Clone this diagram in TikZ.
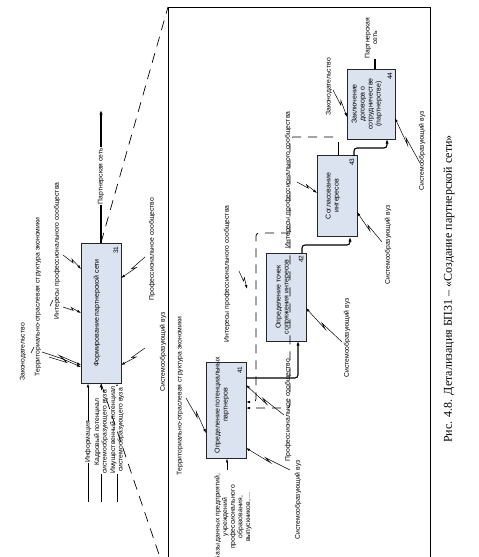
\documentclass[tikz,border=0pt]{standalone}
\usepackage{fontspec}
\setmainfont{Liberation Serif}
\newfontfamily\diafont{Liberation Sans}
\usetikzlibrary{arrows.meta,calc}

\definecolor{boxfill}{HTML}{DCE3F0}

% label leader with a small zig before the box
\newcommand\squig[2]{%
  \coordinate (sqA) at ($#1!.56!#2$);
  \coordinate (sqB) at ($#1!.42!#2$);
  \draw[arrow] #1 -- (sqA) -- ($(sqB)!2.2pt!90:#2$) -- #2;}

\begin{document}
\begin{tikzpicture}[x=1pt,y=-1pt,
        font=\diafont\fontsize{6.8}{7.6}\selectfont,
        box/.style={draw=black!85, line width=0.8pt, fill=boxfill, inner sep=0pt},
        boxtext/.style={rotate=90, align=center, font=\diafont\fontsize{7}{8}\selectfont},
        num/.style={rotate=90, inner sep=0pt, font=\diafont\fontsize{6.5}{7}\selectfont},
        lbl/.style={rotate=90, align=center, inner sep=0.6pt},
        arrow/.style={-{Latex[length=4pt,width=2.6pt]}, line width=0.5pt},
        inarrow/.style={-{Latex[length=4pt,width=2.8pt]}, line width=0.8pt},
        flow/.style={-{Latex[length=4.5pt,width=3.2pt]}, line width=1.1pt, rounded corners=3pt},
        zoomline/.style={dash pattern=on 10pt off 7pt, line width=0.7pt},
        loopline/.style={dash pattern=on 9pt off 7pt, line width=0.7pt, rounded corners=3pt},
        frame/.style={line width=0.9pt}
    ]
        \useasboundingbox (0,0) rectangle (479,557);

        % parent box 31
        \node[box, minimum width=40pt, minimum height=140pt] (b31) at (101,313) {};
        \node[boxtext] (t31) at (97,313) {Формирование партнерской сети};
        \node[num] (n31) at (116,250) {31};

        \coordinate (o31) at (101,110);
        \draw[flow] (b31.north) -- (o31);
        \node[lbl, fill=white] (l31out) at (101,176) {Партнерская сеть};

        \coordinate (i31a) at (88,502);
        \coordinate (i31b) at (101,502);
        \coordinate (i31c) at (117,502);
        \draw[inarrow] (i31a) -- (i31a |- b31.south);
        \draw[inarrow] (i31b) -- (i31b |- b31.south);
        \draw[inarrow] (i31c) -- (i31c |- b31.south);
        \node[lbl, fill=white] (l31a) at (88,442) {Информация};
        \node[lbl, fill=white] (l31b) at (101,432) {Кадровый потенциал\\системообразующего вуза};
        \node[lbl, fill=white] (l31c) at (117,430) {Имущественный потенциал\\системообразующего вуза};

        \node[lbl] (l31d) at (23,352) {Законодательство};
        \node[lbl] (l31e) at (38,297) {Территориально-отраслевая структура экономики};
        \node[lbl] (l31f) at (57,251) {Интересы профессионального сообщества};
        \node[lbl] (l31g) at (152,249) {Профессиональное сообщество};
        \node[lbl] (l31h) at (163,352) {Системообразующий вуз};

        \coordinate (s1) at (63,255);  \coordinate (e1) at (81,269);
        \coordinate (s2) at (63,307);  \coordinate (e2) at (81,313);
        \coordinate (s3) at (42,352);  \coordinate (e3) at (81,365);
        \coordinate (s3b) at (49,357); \coordinate (e3b) at (81,367);
        \coordinate (s4) at (145,257); \coordinate (e4) at (121,278);
        \coordinate (s5) at (145,348); \coordinate (e5) at (121,365);
        \squig{(s1)}{(e1)}
        \squig{(s2)}{(e2)}
        \squig{(s3)}{(e3)}
        \squig{(s3b)}{(e3b)}
        \squig{(s4)}{(e4)}
        \squig{(s5)}{(e5)}
        \draw[line width=0.5pt] (31,353) -- (34,347);
        \draw[line width=0.5pt] (50,306) -- (53,300);

        % frame of the detail and zoom lines
        \coordinate (fTL) at (168,7);
        \coordinate (fTR) at (430,7);
        \coordinate (fBL) at (168,581);
        \coordinate (fBR) at (430,581);
        \draw[frame] (fBL) -- (fTL) -- (fTR) -- (fBR);
        \draw[zoomline] (b31.north) -- (fTL);
        \draw[zoomline] (b31.south) -- (fBL);

        % detail boxes
        \node[box, minimum width=40pt, minimum height=96pt] (b41) at (226,410) {};
        \node[box, minimum width=40pt, minimum height=88pt] (b42) at (286,297) {};
        \node[box, minimum width=40pt, minimum height=81pt] (b43) at (337,196) {};
        \node[box, minimum width=48pt, minimum height=70pt] (b44) at (371,104) {};

        % loop back to 41
        \coordinate (u43) at (338,142);
        \coordinate (d1) at (333,137);
        \coordinate (d2) at (290,137);
        \coordinate (d3) at (290,408);
        \coordinate (d4) at (246,408);
        \coordinate (d5) at (290,233);
        \coordinate (d6) at (256,233);
        \coordinate (d7) at (256,402);
        \coordinate (d8) at (246,402);
        \draw[line width=0.7pt] (u43 |- b43.north) -- (u43);
        \draw[loopline, -{Latex[length=4pt,width=2.6pt]}] (d1) -- (d2) -- (d3) -- (d4);
        \draw[loopline, -{Latex[length=4pt,width=2.6pt]}] (d5) -- (d6) -- (d7) -- (d8);

        \node[boxtext] (t41) at (222,405) {Определение потенциальных\\партнеров};
        \node[num] (n41) at (240,370) {41};
        \node[boxtext] (t42) at (283,297) {Определение точек\\сопряжения интересов};
        \node[num] (n42) at (301,259) {42};
        \node[boxtext] (t43) at (333,196) {Согласование\\интересов};
        \node[num] (n43) at (352,162) {43};
        \node[boxtext] (t44) at (367,104) {Заключение\\договора о\\сотрудничестве\\(партнерстве)};
        \node[num] (n44) at (390,76) {44};

        % flows between boxes
        \coordinate (f41) at (246,378);
        \coordinate (f42in) at (298,341);
        \coordinate (f42out) at (302,253);
        \coordinate (f43in) at (350,237);
        \coordinate (f43out) at (354,156);
        \coordinate (f44in) at (387,139);
        \coordinate (f44out) at (375,69);
        \coordinate (o44) at (375,18);
        \draw[flow] (f41) -| (f42in);
        \draw[flow] (f42out) -- ++(0,-8) -| (f43in);
        \draw[flow] (f43out) -- ++(0,-8) -| (f44in);
        \draw[flow] (f44out) -- (o44);
        \node[lbl, fill=white] (l44out) at (371,38) {Партнерская\\сеть};

        % input of 41
        \coordinate (i41) at (227,470);
        \draw[arrow] (i41) -- (i41 |- b41.south);
        \node[lbl] (l41in) at (233,517) {Базы данных предприятий,\\учреждений\\профессионального\\образования,\\выпускников, ...};

        % labels of the detail
        \node[lbl] (l41a) at (180,396) {Территориально-отраслевая структура экономики};
        \node[lbl] (l41b) at (298,500) {Системообразующий вуз};
        \node[lbl] (l41c) at (288,410) {Профессиональное сообщество};
        \node[lbl] (l42a) at (227,274) {Интересы профессионального сообщества};
        \node[lbl] (l42b) at (347,338) {Системообразующий вуз};
        \node[lbl] (l43a) at (288,180) {Интересы профессионального сообщества};
        \node[lbl] (l43b) at (388,245) {Системообразующий вуз};
        \node[lbl] (l44a) at (329,87) {Законодательство};
        \node[lbl] (l44b) at (422,151) {Системообразующий вуз};

        \coordinate (s6) at (186,398);  \coordinate (e6) at (206,433);
        \coordinate (s7) at (290,470);  \coordinate (e7) at (246,448);
        \coordinate (s8) at (284,415);  \coordinate (e8) at (246,385);
        \coordinate (s9) at (239,271);  \coordinate (e9) at (247,289);
        \coordinate (s10) at (342,342); \coordinate (e10) at (306,308);
        \coordinate (s11) at (297,182); \coordinate (e11) at (317,193);
        \coordinate (s12) at (382,242); \coordinate (e12) at (357,212);
        \coordinate (s13) at (333,90);  \coordinate (e13) at (347,117);
        \coordinate (s14) at (420,163); \coordinate (e14) at (395,118);
        \squig{(s6)}{(e6)}
        \squig{(s7)}{(e7)}
        \squig{(s8)}{(e8)}
        \squig{(s9)}{(e9)}
        \squig{(s10)}{(e10)}
        \squig{(s11)}{(e11)}
        \squig{(s12)}{(e12)}
        \squig{(s13)}{(e13)}
        \squig{(s14)}{(e14)}

        \node[rotate=90, font=\rmfamily\fontsize{12}{14}\selectfont] (cap) at (449,289)
            {Рис. 4.8. Детализация БП31 – «Создание партнерской сети»};
    \end{tikzpicture}
\end{document}
